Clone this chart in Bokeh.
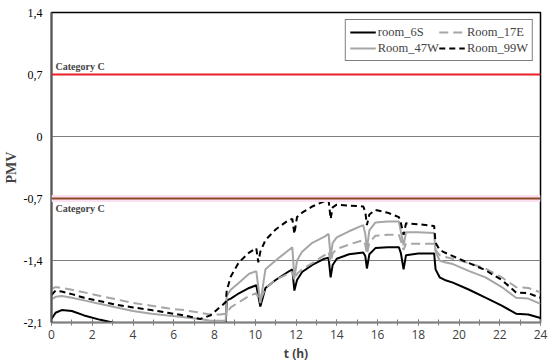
from bokeh.plotting import figure
from bokeh.models import Span, Label, FixedTicker, Legend, LegendItem, Range1d
from bokeh.embed import file_html
from bokeh.resources import INLINE

t_hours = [0, 0.2, 0.5, 1, 1.6, 2.4, 3.2, 4, 4.9, 5.7, 6.5, 7.3, 7.8, 8.3, 8.55, 8.6, 8.8, 9.2, 9.7,
           10.05, 10.15, 10.25, 10.5, 11.0, 11.6, 11.82, 11.92, 12.05, 12.3, 12.8, 13.4, 13.6, 13.7,
           13.8, 14.0, 14.6, 15.3, 15.4, 15.48, 15.6, 15.9, 16.5, 17.05, 17.15, 17.28, 17.4, 18.0,
           18.78, 18.85, 19.05, 19.3, 19.7, 20.5, 21.3, 22.1, 22.8, 23.4, 24]

room_6S = [-2.06, -1.99, -1.96, -1.97, -2.02, -2.07, -2.11, -2.13, -2.14, -2.14, -2.14, -2.14, -2.14,
           -2.14, -2.14, -1.85, -1.83, -1.77, -1.71, -1.68, -1.80, -1.92, -1.71, -1.62, -1.53, -1.50,
           -1.74, -1.62, -1.53, -1.45, -1.38, -1.37, -1.59, -1.45, -1.38, -1.33, -1.31, -1.35, -1.49,
           -1.33, -1.26, -1.25, -1.25, -1.32, -1.50, -1.34, -1.32, -1.32, -1.50, -1.59, -1.62, -1.65,
           -1.73, -1.82, -1.91, -2.00, -2.01, -2.05]

room_17E = [-1.72, -1.70, -1.71, -1.73, -1.76, -1.80, -1.84, -1.88, -1.91, -1.94, -1.96, -1.99, -2.01,
            -2.01, -2.00, -1.99, -1.93, -1.87, -1.80, -1.77, -1.82, -1.85, -1.71, -1.62, -1.55, -1.53,
            -1.62, -1.55, -1.50, -1.43, -1.34, -1.30, -1.42, -1.32, -1.27, -1.22, -1.17, -1.22, -1.33,
            -1.20, -1.12, -1.11, -1.11, -1.18, -1.28, -1.21, -1.21, -1.21, -1.28, -1.34, -1.36, -1.38,
            -1.43, -1.49, -1.59, -1.70, -1.71, -1.76]

room_47W = [-1.84, -1.81, -1.80, -1.82, -1.85, -1.89, -1.93, -1.97, -2.00, -2.02, -2.04, -2.06, -2.08,
            -2.08, -2.08, -1.80, -1.73, -1.65, -1.55, -1.52, -1.70, -1.88, -1.50, -1.40, -1.29, -1.25,
            -1.60, -1.40, -1.30, -1.20, -1.13, -1.10, -1.36, -1.20, -1.14, -1.07, -1.00, -1.10, -1.27,
            -1.06, -0.97, -0.96, -0.96, -1.08, -1.23, -1.08, -1.08, -1.09, -1.30, -1.40, -1.42, -1.44,
            -1.52, -1.59, -1.70, -1.82, -1.83, -1.89]

room_99W = [-1.79, -1.74, -1.75, -1.78, -1.82, -1.86, -1.90, -1.93, -1.96, -1.99, -2.02, -2.06, -2.02,
            -1.92, -1.87, -1.74, -1.58, -1.42, -1.31, -1.26, -1.42, -1.30, -1.17, -1.05, -0.95, -0.93,
            -1.10, -0.91, -0.86, -0.79, -0.73, -0.72, -0.93, -0.80, -0.77, -0.78, -0.79, -0.85, -1.00,
            -0.88, -0.83, -0.86, -0.91, -0.98, -1.11, -0.98, -0.99, -1.01, -1.20, -1.28, -1.31, -1.35,
            -1.43, -1.51, -1.62, -1.76, -1.77, -1.82]

y_ticks = [-2.1, -1.4, -0.7, 0, 0.7, 1.4]
y_tick_labels = ["-2,1", "-1,4", "-0,7", "0", "0,7", "1,4"]
x_ticks = list(range(0, 25, 2))
category_levels = [0.7, -0.7]
category_text = "Category C"

p = figure(width=550, height=364, output_backend="svg", toolbar_location=None,
           x_range=Range1d(0, 24), y_range=Range1d(-2.1, 1.4),
           min_border_left=0, min_border_right=10, min_border_top=12, min_border_bottom=0)
p.background_fill_color = "white"
p.border_fill_color = "white"
p.outline_line_color = "black"
p.outline_line_width = 1.5

# grid
p.xgrid.visible = False
p.ygrid.ticker = FixedTicker(ticks=y_ticks)
p.ygrid.grid_line_color = "#7f7f7f"
p.ygrid.grid_line_width = 1

# y axis
p.yaxis.ticker = FixedTicker(ticks=y_ticks)
p.yaxis.major_label_overrides = {v: s for v, s in zip(y_ticks, y_tick_labels)}
p.yaxis.major_tick_line_color = None
p.yaxis.minor_tick_line_color = None
p.yaxis.major_tick_out = 0
p.yaxis.major_tick_in = 0
p.yaxis.minor_tick_out = 0
p.yaxis.minor_tick_in = 0
p.yaxis.axis_line_color = "#595959"
p.yaxis.axis_line_width = 2
p.yaxis.major_label_text_font = "Liberation Serif"
p.yaxis.major_label_text_font_size = "12px"
p.yaxis.major_label_text_color = "black"
p.yaxis.major_label_standoff = 9
p.yaxis.axis_label = "PMV"
p.yaxis.axis_label_text_font = "Liberation Serif"
p.yaxis.axis_label_text_font_style = "bold"
p.yaxis.axis_label_text_font_size = "14px"
p.yaxis.axis_label_standoff = 2

# x axis
p.xaxis.ticker = FixedTicker(ticks=x_ticks, minor_ticks=list(range(0, 25)))
p.xaxis.axis_line_color = "#7f7f7f"
p.xaxis.axis_line_width = 1.5
p.xaxis.major_tick_line_color = "#7f7f7f"
p.xaxis.minor_tick_line_color = "#7f7f7f"
p.xaxis.major_tick_in = 3
p.xaxis.major_tick_out = 3
p.xaxis.minor_tick_in = 3
p.xaxis.minor_tick_out = 3
p.xaxis.major_label_text_font = "Open Sans"
p.xaxis.major_label_text_font_size = "12px"
p.xaxis.major_label_text_color = "#404040"
p.xaxis.major_label_standoff = 4
p.xaxis.axis_label = "t (h)"
p.xaxis.axis_label_text_font = "Open Sans"
p.xaxis.axis_label_text_font_style = "bold"
p.xaxis.axis_label_text_font_size = "12px"
p.xaxis.axis_label_standoff = 3

# category lines
p.add_layout(Span(location=category_levels[1], dimension="width", line_color="#fbe0f1", line_width=7))
p.add_layout(Span(location=category_levels[1], dimension="width", line_color="#8b4a24", line_width=2))
p.add_layout(Span(location=category_levels[0], dimension="width", line_color="#e8202a", line_width=2))
p.add_layout(Label(x=0, y=category_levels[0], x_offset=4, y_offset=3, text=category_text,
                   text_font="Liberation Serif", text_font_style="bold", text_font_size="10px",
                   text_baseline="bottom"))
p.add_layout(Label(x=0, y=category_levels[1], x_offset=4, y_offset=-4, text=category_text,
                   text_font="Liberation Serif", text_font_style="bold", text_font_size="10px",
                   text_baseline="top"))

r6 = p.line(t_hours, room_6S, line_color="black", line_width=2)
r17 = p.line(t_hours, room_17E, line_color="#a6a6a6", line_width=2, line_dash="9 5")
r47 = p.line(t_hours, room_47W, line_color="#a6a6a6", line_width=2)
r99 = p.line(t_hours, room_99W, line_color="black", line_width=2, line_dash="6 4")

legend = Legend(items=[LegendItem(label="room_6S", renderers=[r6]),
                       LegendItem(label="Room_47W", renderers=[r47]),
                       LegendItem(label="Room_17E", renderers=[r17]),
                       LegendItem(label="Room_99W", renderers=[r99])],
                location="top_right", ncols=2,
                label_text_font="Liberation Serif", label_text_font_size="12.5px",
                border_line_color="black", border_line_width=1,
                glyph_width=26, label_standoff=2, spacing=0, padding=4, margin=7,
                label_height=16, glyph_height=16)
p.add_layout(legend)

open("out.html", "w").write(file_html(p, INLINE))
